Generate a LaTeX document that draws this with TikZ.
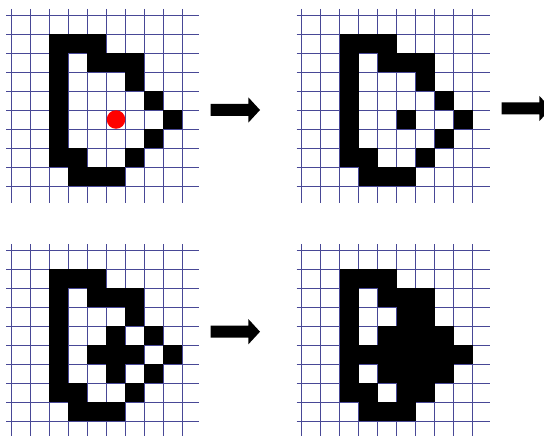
\documentclass[tikz,border=0pt]{standalone}
\definecolor{gridnavy}{RGB}{72,72,150}
\tikzset{
  gridline/.style={draw=gridnavy,line width=0.9pt},
  cellfill/.style={fill=black},
  blockarrow/.style={fill=black},
  reddot/.style={fill=red}
}
\newcommand{\mygrid}[3]{%
  \foreach \k in {0,...,9}{
    \draw[gridline] ({#1-5},{#2+19*\k}) -- ({#1+188},{#2+19*\k});
    \draw[gridline] ({#1+19*\k},{#2-6}) -- ({#1+19*\k},{#2+188});
  }
  \foreach \c/\r in {#3}{
    \fill[cellfill] ({#1+19*\c},{#2+19*\r}) rectangle ++(19,19);
  }
}
\newcommand{\myarrow}[3]{% x-start, y-center, tip x
  \fill[blockarrow] (#1,{#2-6}) -- ({#3-11.7},{#2-6}) -- ({#3-11.7},{#2-12.7}) -- (#3,#2)
    -- ({#3-11.7},{#2+12.7}) -- ({#3-11.7},{#2+6}) -- (#1,{#2+6}) -- cycle;
}
\begin{document}
\begin{tikzpicture}[x=1pt,y=-1pt]
\useasboundingbox (0,0) rectangle (544,436);
\fill[white] (0,0) rectangle (544,436);
% grid 1
\mygrid{11}{15}{2/1,3/1,4/1, 2/2,4/2,5/2,6/2, 2/3,6/3, 2/4,7/4, 2/5,8/5, 2/6,7/6, 2/7,3/7,6/7, 3/8,4/8,5/8}
\fill[reddot] (116,119.5) circle (9.3);
% grid 2
\mygrid{301.7}{15}{2/1,3/1,4/1, 2/2,4/2,5/2,6/2, 2/3,6/3, 2/4,7/4, 2/5,5/5,8/5, 2/6,7/6, 2/7,3/7,6/7, 3/8,4/8,5/8}
% grid 3
\mygrid{11}{250}{2/1,3/1,4/1, 2/2,4/2,5/2,6/2, 2/3,6/3, 2/4,5/4,7/4, 2/5,4/5,5/5,6/5,8/5, 2/6,5/6,7/6, 2/7,3/7,6/7, 3/8,4/8,5/8}
% grid 4
\mygrid{301.7}{250}{2/1,3/1,4/1, 2/2,4/2,5/2,6/2, 2/3,5/3,6/3, 2/4,4/4,5/4,6/4,7/4, 2/5,3/5,4/5,5/5,6/5,7/5,8/5, 2/6,4/6,5/6,6/6,7/6, 2/7,3/7,5/7,6/7, 3/8,4/8,5/8}
% arrows
\myarrow{210.7}{110}{260}
\myarrow{501.7}{108.5}{551}
\myarrow{210.7}{331.7}{260}
\end{tikzpicture}
\end{document}
